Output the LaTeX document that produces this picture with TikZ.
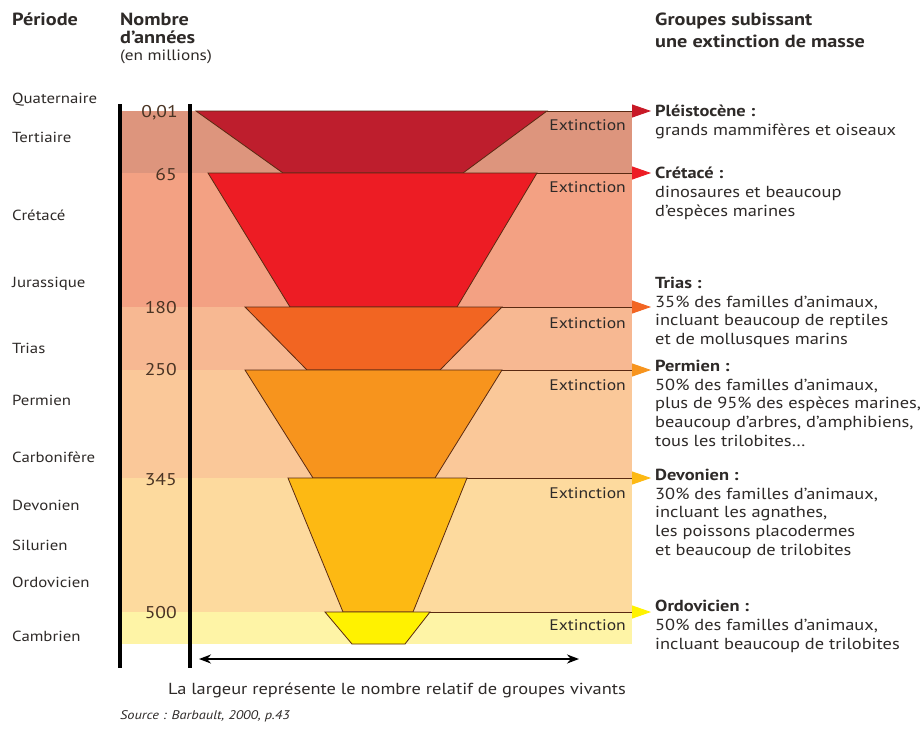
\documentclass[tikz,border=0pt]{standalone}
\usepackage{fontspec}
\setmainfont{PT Sans}[FakeStretch=1.15]
\usetikzlibrary{arrows.meta}
\definecolor{txt}{HTML}{2E2A28}
\definecolor{numc}{HTML}{4A3424}
\definecolor{bandA}{HTML}{DD957D}
\definecolor{bandB}{HTML}{F3A183}
\definecolor{bandC}{HTML}{F7B892}
\definecolor{bandD}{HTML}{FAC899}
\definecolor{bandE}{HTML}{FDDA9E}
\definecolor{bandF}{HTML}{FEF4A6}
\definecolor{trA}{HTML}{BE1E2D}
\definecolor{trB}{HTML}{ED1C24}
\definecolor{trC}{HTML}{F26522}
\definecolor{trD}{HTML}{F7941D}
\definecolor{trE}{HTML}{FDB913}
\definecolor{trF}{HTML}{FFF200}
\definecolor{edge}{HTML}{5A2A12}
\tikzset{
  lab/.style={anchor=west, font=\fontsize{14.6}{16}\selectfont, text=txt},
  num/.style={anchor=east, font=\fontsize{17}{19}\selectfont, text=numc},
  hdr/.style={anchor=north west, align=left, font=\bfseries\fontsize{17.6}{18}\selectfont, text=txt},
  ext/.style={anchor=east, font=\fontsize{15.3}{16}\selectfont, text=txt},
  desc/.style={anchor=north west, align=left, font=\fontsize{16}{18.7}\selectfont, text=txt},
  trap/.style={draw=edge, line width=0.8pt},
  extline/.style={draw=edge, line width=0.9pt},
  bar/.style={line width=3.5pt, draw=black}
}
\begin{document}
\begin{tikzpicture}[x=1pt,y=-1pt, every node/.style={inner sep=0pt}]
\useasboundingbox (0,0) rectangle (921,731);
\fill[white] (0,0) rectangle (921,731);
% bands
\fill[bandA] (120,111) rectangle (632,173);
\fill[bandB] (120,173) rectangle (632,307);
\fill[bandC] (120,307) rectangle (632,370);
\fill[bandD] (120,370) rectangle (632,478);
\fill[bandE] (120,478) rectangle (632,612);
\fill[bandF] (120,612) rectangle (632,644);
% bars
\coordinate (b1t) at (120,104); \coordinate (b1b) at (120,668);
\coordinate (b2t) at (190,104); \coordinate (b2b) at (190,668);
\draw[bar] (b1t) -- (b1b);
\draw[bar] (b2t) -- (b2b);
% trapezoid corners
\coordinate (t1a) at (196,111); \coordinate (t1b) at (547,111); \coordinate (t1c) at (463,173); \coordinate (t1d) at (283,173);
\coordinate (t2a) at (208,173); \coordinate (t2b) at (537,173); \coordinate (t2c) at (457,307); \coordinate (t2d) at (290,307);
\coordinate (t3a) at (245,307); \coordinate (t3b) at (502,307); \coordinate (t3c) at (440,370); \coordinate (t3d) at (307,370);
\coordinate (t4a) at (245,370); \coordinate (t4b) at (502,370); \coordinate (t4c) at (435,478); \coordinate (t4d) at (313,478);
\coordinate (t5a) at (288,478); \coordinate (t5b) at (467,478); \coordinate (t5c) at (413,612); \coordinate (t5d) at (343,612);
\coordinate (t6a) at (325,612); \coordinate (t6b) at (430,612); \coordinate (t6c) at (405,644); \coordinate (t6d) at (352,644);
\filldraw[trap, fill=trA] (t1a) -- (t1b) -- (t1c) -- (t1d) -- cycle;
\filldraw[trap, fill=trB] (t2a) -- (t2b) -- (t2c) -- (t2d) -- cycle;
\filldraw[trap, fill=trC] (t3a) -- (t3b) -- (t3c) -- (t3d) -- cycle;
\filldraw[trap, fill=trD] (t4a) -- (t4b) -- (t4c) -- (t4d) -- cycle;
\filldraw[trap, fill=trE] (t5a) -- (t5b) -- (t5c) -- (t5d) -- cycle;
\filldraw[trap, fill=trF] (t6a) -- (t6b) -- (t6c) -- (t6d) -- cycle;
% extinction arrows
\coordinate (a1) at (651,111);
\coordinate (a2) at (651,173);
\coordinate (a3) at (651,307);
\coordinate (a4) at (651,370);
\coordinate (a5) at (651,478);
\coordinate (a6) at (651,612);
\draw[extline, -{Triangle[length=19pt,width=13pt,color=trA!85!red]}] (t1b) -- (a1);
\draw[extline, -{Triangle[length=19pt,width=13pt,color=trB]}] (t2b) -- (a2);
\draw[extline, -{Triangle[length=19pt,width=13pt,color=trC]}] (t3b) -- (a3);
\draw[extline, -{Triangle[length=19pt,width=13pt,color=trD]}] (t4b) -- (a4);
\draw[extline, -{Triangle[length=19pt,width=13pt,color=trE]}] (t5b) -- (a5);
\draw[extline, -{Triangle[length=19pt,width=13pt,color=trF]}] (t6b) -- (a6);
% extinction labels
\node[ext] (e1) at (626,125) {Extinction};
\node[ext] (e2) at (626,187) {Extinction};
\node[ext] (e3) at (626,323) {Extinction};
\node[ext] (e4) at (626,385) {Extinction};
\node[ext] (e5) at (626,493) {Extinction};
\node[ext] (e6) at (626,625) {Extinction};
% headers
\node[hdr] (hp) at (12,13) {Période};
\node[hdr] (hn) at (120,13) {Nombre\\d’années};
\node[anchor=north west, font=\fontsize{15}{16}\selectfont, text=txt] (hm) at (120,50) {(en millions)};
\node[hdr, font=\bfseries\fontsize{17.6}{22}\selectfont] (hg) at (655,13) {Groupes subissant\\une extinction de masse};
% periods
\node[lab] (p1) at (12,100) {Quaternaire};
\node[lab] (p2) at (12,137) {Tertiaire};
\node[lab] (p3) at (12,215) {Crétacé};
\node[lab] (p4) at (12,284) {Jurassique};
\node[lab] (p5) at (12,348) {Trias};
\node[lab] (p6) at (12,400) {Permien};
\node[lab] (p7) at (12,457) {Carbonifère};
\node[lab] (p8) at (12,505) {Devonien};
\node[lab] (p9) at (12,545) {Silurien};
\node[lab] (p10) at (12,582) {Ordovicien};
\node[lab] (p11) at (12,636) {Cambrien};
% numbers
\node[num] (n1) at (178,113) {0,01};
\node[num] (n2) at (177,175) {65};
\node[num] (n3) at (177,308) {180};
\node[num] (n4) at (177,370) {250};
\node[num] (n5) at (177,480) {345};
\node[num] (n6) at (177,613) {500};
% descriptions
\node[desc] (d1) at (655,105) {\textbf{Pléistocène :}\\grands mammifères et oiseaux};
\node[desc] (d2) at (655,167) {\textbf{Crétacé :}\\dinosaures et beaucoup\\d’espèces marines};
\node[desc] (d3) at (655,277) {\textbf{Trias :}\\35\% des familles d’animaux,\\incluant beaucoup de reptiles\\et de mollusques marins};
\node[desc] (d4) at (655,360) {\textbf{Permien :}\\50\% des familles d’animaux,\\plus de 95\% des espèces marines,\\beaucoup d’arbres, d’amphibiens,\\tous les trilobites…};
\node[desc] (d5) at (655,469) {\textbf{Devonien :}\\30\% des familles d’animaux,\\incluant les agnathes,\\les poissons placodermes\\et beaucoup de trilobites};
\node[desc] (d6) at (655,600) {\textbf{Ordovicien :}\\50\% des familles d’animaux,\\incluant beaucoup de trilobites};
% width arrow
\coordinate (wl) at (199,659);
\coordinate (wr) at (579,659);
\draw[line width=2.5pt, {Stealth[length=12pt,width=9pt]}-{Stealth[length=12pt,width=9pt]}] (wl) -- (wr);
\node[font=\fontsize{16}{18}\selectfont, text=txt] (cap) at (397,690) {La largeur représente le nombre relatif de groupes vivants};
\node[anchor=west, font=\itshape\fontsize{12.5}{14}\selectfont, text=txt] (src) at (120,716) {Source : Barbault, 2000, p.43};
\end{tikzpicture}
\end{document}
